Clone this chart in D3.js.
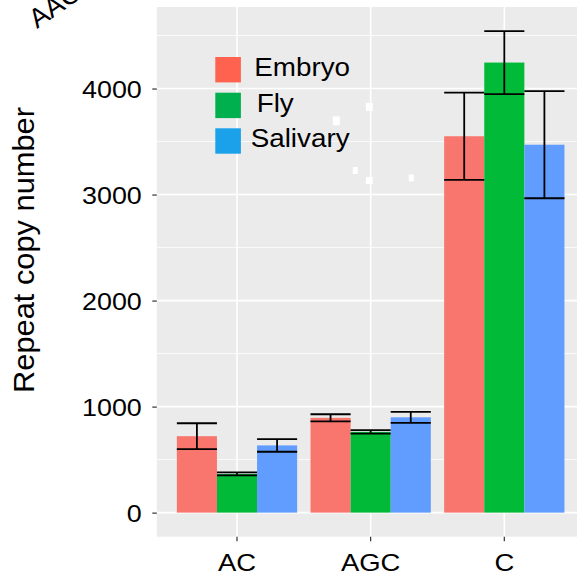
<!DOCTYPE html>
<html>
<head>
<meta charset="utf-8">
<script src="https://cdn.jsdelivr.net/npm/d3@7/dist/d3.min.js"></script>
<style>
  html, body { margin: 0; padding: 0; background: #fff; }
  svg { display: block; font-family: "Liberation Sans", Arial, sans-serif; }
</style>
</head>
<body>
<svg id="chart" width="577" height="579"></svg>
<script>
// Repeat types on the x axis
const categories = ["AC", "AGC", "C"];
// Tissues (dodged bars)
const series = ["Embryo", "Fly", "Salivary"];
// Mean repeat copy number, per repeat type, in series order
const embryoMean   = [721, 894, 3550];
const flyMean      = [365, 762, 4245];
const salivaryMean = [634, 899, 3470];
// Standard error of each mean
const embryoSE   = [122, 34, 411];
const flySE      = [14, 17, 297];
const salivarySE = [60, 52, 505];
// Y axis ticks
const yTicks = [0, 1000, 2000, 3000, 4000];
const yMinorTicks = [500, 1500, 2500, 3500, 4500];
// Small white marks in the panel (x in category units, y in copy number)
const speckX = [1.743, 1.99, 1.885, 1.99, 2.304];
const speckY = [3695, 3827, 3227, 3133, 3157];
const speckW = [7, 7, 5, 7, 5];
const speckH = [9, 8, 7, 7, 7];
// Partial label from a neighbouring panel
const cornerLabel = "AAC";

const barColors = ["#F8766D", "#00BA38", "#619CFF"];
const keyColors = ["#FF634F", "#00B04F", "#1AA1EA"];

const means = [embryoMean, flyMean, salivaryMean];
const ses = [embryoSE, flySE, salivarySE];
const rows = [];
categories.forEach((c, i) => {
  series.forEach((s, j) => {
    rows.push({ cat: c, ser: s, mean: means[j][i], se: ses[j][i], color: barColors[j] });
  });
});

// widen glyphs horizontally by a factor, keeping the anchor
function stretch(sel, f) {
  sel.each(function () {
    const n = this.getComputedTextLength();
    d3.select(this).attr("textLength", n * f).attr("lengthAdjust", "spacingAndGlyphs");
  });
}

const svg = d3.select("#chart");
const panel = { left: 156.8, right: 584.5, top: 7, bottom: 536.7 };

const dataMax = d3.max(rows, d => d.mean + d.se);
const pad = dataMax * 0.05;
const y = d3.scaleLinear().domain([-pad, dataMax + pad]).range([panel.bottom, panel.top]);

const x = d3.scaleBand().domain(categories)
  .range([panel.left, panel.right])
  .paddingInner(0.1).paddingOuter(0.15);
const xSub = d3.scaleBand().domain(series).range([0, x.bandwidth()]);
const xCont = d3.scaleLinear().domain([1, 3])
  .range([x("AC") + x.bandwidth() / 2, x("C") + x.bandwidth() / 2]);

// panel background
svg.append("rect")
  .attr("x", panel.left).attr("y", panel.top)
  .attr("width", panel.right - panel.left).attr("height", panel.bottom - panel.top)
  .attr("fill", "#EBEBEB");

// grid lines
const grid = svg.append("g");
grid.selectAll(".minor").data(yMinorTicks).enter().append("line")
  .attr("x1", panel.left).attr("x2", panel.right)
  .attr("y1", d => y(d)).attr("y2", d => y(d))
  .attr("stroke", "#fff").attr("stroke-width", 0.8);
grid.selectAll(".major").data(yTicks).enter().append("line")
  .attr("x1", panel.left).attr("x2", panel.right)
  .attr("y1", d => y(d)).attr("y2", d => y(d))
  .attr("stroke", "#fff").attr("stroke-width", 1.6);
grid.selectAll(".vmajor").data(categories).enter().append("line")
  .attr("x1", d => x(d) + x.bandwidth() / 2).attr("x2", d => x(d) + x.bandwidth() / 2)
  .attr("y1", panel.top).attr("y2", panel.bottom)
  .attr("stroke", "#fff").attr("stroke-width", 1.6);

// bars
svg.append("g").selectAll("rect").data(rows).enter().append("rect")
  .attr("x", d => x(d.cat) + xSub(d.ser))
  .attr("width", xSub.bandwidth())
  .attr("y", d => y(d.mean))
  .attr("height", d => y(0) - y(d.mean))
  .attr("fill", d => d.color);

// error bars
const eb = svg.append("g").attr("stroke", "#000").attr("stroke-width", 1.8).attr("fill", "none");
rows.forEach(d => {
  const x0 = x(d.cat) + xSub(d.ser);
  const x1 = x0 + xSub.bandwidth();
  const xm = (x0 + x1) / 2;
  eb.append("line").attr("x1", xm).attr("x2", xm).attr("y1", y(d.mean + d.se)).attr("y2", y(d.mean - d.se));
  eb.append("line").attr("x1", x0).attr("x2", x1).attr("y1", y(d.mean + d.se)).attr("y2", y(d.mean + d.se));
  eb.append("line").attr("x1", x0).attr("x2", x1).attr("y1", y(d.mean - d.se)).attr("y2", y(d.mean - d.se));
});

// small white marks
svg.append("g").selectAll("rect").data(speckX.map((v, i) => ({ x: v, y: speckY[i], w: speckW[i], h: speckH[i] })))
  .enter().append("rect")
  .attr("x", d => xCont(d.x) - d.w / 2).attr("y", d => y(d.y) - d.h / 2)
  .attr("width", d => d.w).attr("height", d => d.h)
  .attr("fill", "#fff");

// y axis
const yAxis = svg.append("g")
  .attr("transform", `translate(${panel.left},0)`)
  .call(d3.axisLeft(y).tickValues(yTicks).tickFormat(d3.format("d")).tickSize(4.5).tickPadding(10.5));
yAxis.select(".domain").remove();
yAxis.selectAll(".tick line").attr("stroke", "#333").attr("stroke-width", 1.2);
yAxis.selectAll(".tick text").attr("fill", "#000").attr("font-size", 24)
  .attr("font-family", "'Liberation Sans', Arial, sans-serif")
  .attr("dy", "0.38em");
stretch(yAxis.selectAll(".tick text"), 1.12);

// x axis
const xAxis = svg.append("g")
  .attr("transform", `translate(0,${panel.bottom})`)
  .call(d3.axisBottom(x).tickSize(4.5).tickPadding(12.5));
xAxis.select(".domain").remove();
xAxis.selectAll(".tick line").attr("stroke", "#333").attr("stroke-width", 1.2);
xAxis.selectAll(".tick text").attr("fill", "#000").attr("font-size", 24.5)
  .attr("font-family", "'Liberation Sans', Arial, sans-serif");
stretch(xAxis.selectAll(".tick text"), 1.12);

// y axis title
const yTitle = svg.append("text")
  .attr("transform", "translate(34,250) rotate(-90)")
  .attr("text-anchor", "middle")
  .attr("font-size", 29).attr("fill", "#000")
  .text("Repeat copy number");
yTitle.attr("textLength", 286).attr("lengthAdjust", "spacingAndGlyphs");

// partial rotated label at top left
svg.append("text")
  .attr("transform", "translate(37,29) rotate(-35)")
  .attr("font-size", 27).attr("fill", "#000")
  .text(cornerLabel);

// legend
const legendY = [57, 92.7, 128.3];
const legendTextX = [254.3, 256.7, 250.7];
const legendLabels = ["Embryo", "Fly", "Salivary"];
const lg = svg.append("g");
series.forEach((s, i) => {
  lg.append("rect")
    .attr("x", 215.3).attr("y", legendY[i])
    .attr("width", 25.6).attr("height", 25.4)
    .attr("fill", keyColors[i]);
  lg.append("text")
    .attr("x", legendTextX[i]).attr("y", legendY[i] + 19)
    .attr("font-size", 25.5).attr("fill", "#000")
    .text(legendLabels[i]);
});
stretch(lg.selectAll("text"), 1.09);
</script>
</body>
</html>
